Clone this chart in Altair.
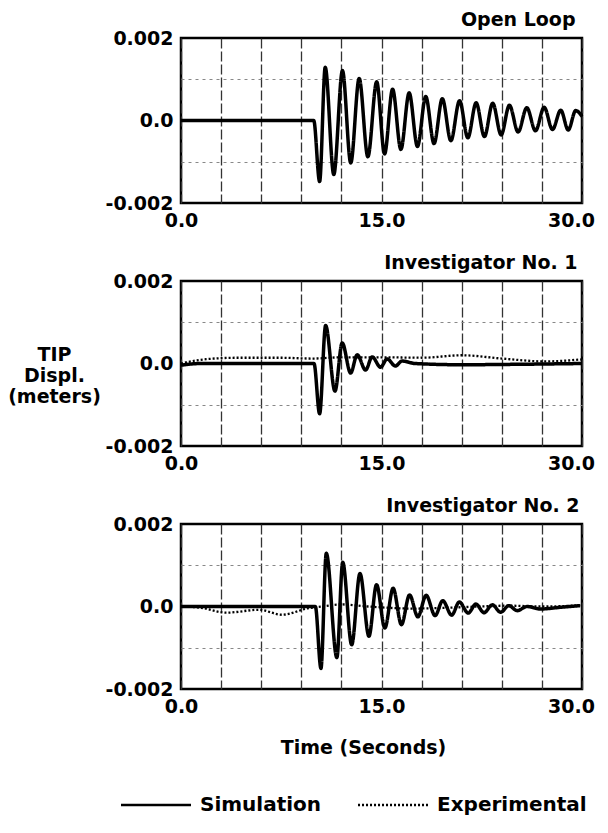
import altair as alt
import pandas as pd

FONT = "DejaVu Sans"

# ---- Open Loop (simulation only), time in s, displacement in m ----
open_t = [0.0, 9.93, 10.37, 10.79, 11.43, 12.08, 12.70, 13.33, 13.98, 14.64, 15.23, 15.83,
          16.45, 17.07, 17.69, 18.31, 18.93, 19.55, 20.19, 20.84, 21.46, 22.08, 22.70,
          23.32, 23.95, 24.57, 25.22, 25.87, 26.52, 27.17, 27.79, 28.41, 28.97, 29.53, 30.0]
open_sim = [0.0, 0.0, -0.00148, 0.00129, -0.00131, 0.00121, -0.00103, 0.00102, -0.00088,
            0.00094, -0.00081, 0.00076, -0.00070, 0.00067, -0.00063, 0.00058, -0.00056,
            0.00053, -0.00049, 0.00048, -0.00042, 0.00043, -0.00039, 0.00042, -0.00035,
            0.00037, -0.00028, 0.00031, -0.00025, 0.00032, -0.00022, 0.00025, -0.00023,
            0.00024, 0.00010]

# ---- Investigator No. 1 ----
inv1_sim_t = [0.0, 1.5, 9.95, 10.37, 10.82, 11.52, 12.06, 12.69, 13.18, 13.81, 14.30,
              14.93, 15.42, 16.04, 16.54, 17.5, 21.0, 25.0, 30.0]
inv1_sim = [-0.00004, 0.0, 0.0, -0.00122, 0.00092, -0.00067, 0.00050, -0.00023, 0.00021,
            -0.00016, 0.00016, -0.00009, 0.00011, -0.00006, 0.00006, 0.0, -0.00003,
            -0.00002, 0.0]
inv1_exp_t = [0.0, 1.87, 4.35, 7.34, 9.83, 12.0, 15.0, 18.03, 21.02, 24.0, 27.24, 30.0]
inv1_exp = [0.0, 0.000105, 0.00014, 0.00014, 0.00012, 0.00015, 0.00015, 0.00014,
            0.00020, 0.00012, 0.00005, 0.00010]

# ---- Investigator No. 2 ----
inv2_sim_t = [0.0, 10.05, 10.47, 10.87, 11.66, 12.10, 12.77, 13.39, 14.06, 14.63, 15.25,
              15.87, 16.49, 17.10, 17.72, 18.34, 19.01, 19.58, 20.25, 20.82, 21.49, 22.06,
              22.67, 23.29, 23.91, 24.53, 25.15, 25.89, 26.88, 28.37, 29.85]
inv2_sim = [0.0, 0.0, -0.00150, 0.00129, -0.00124, 0.00107, -0.00093, 0.00080, -0.00072,
            0.00053, -0.00052, 0.00044, -0.00044, 0.00028, -0.00025, 0.00027, -0.00022,
            0.00014, -0.00021, 0.00011, -0.00016, 0.00006, -0.00015, 0.00004, -0.00014,
            0.00002, -0.00010, 0.0, -0.00006, -0.00002, 0.00002]
inv2_exp_t = [0.0, 1.5, 3.37, 5.84, 7.57, 9.55, 10.5, 12.0, 14.0, 17.3, 20.0, 22.3, 24.5,
              27.0, 30.0]
inv2_exp = [0.0, -0.00003, -0.00015, -0.00008, -0.00020, -0.00004, 0.0, 0.00005, 0.0,
            -0.00005, -0.00003, 0.0, 0.00002, 0.0, 0.00003]

SERIES = ["Simulation", "Experimental"]
x_ticks = [0, 3, 6, 9, 12, 15, 18, 21, 24, 27, 30]
y_ticks = [-0.002, -0.001, 0.0, 0.001, 0.002]

W, H = 401, 165


def frame(ts, ys, name):
    return pd.DataFrame({"t": ts, "y": ys, "series": name})


dash_scale = alt.Scale(domain=SERIES, range=[[1, 0], [2, 2]])

TOP_TITLE = dict(titleAngle=0, titleAlign="right", titleBaseline="alphabetic")


def panel(title, sim, exp=None, position=1):
    # panel title is carried by an axis title placed above the plot's top-right corner
    x_kw = dict(title=None)
    y_kw = dict(title=None)
    if position == 1:
        y_kw = dict(title=title, titleX=W - 7, titleY=-13, **TOP_TITLE)
    elif position == 2:
        x_kw = dict(title=title, titleX=W - 5, titleY=-(H + 13), **TOP_TITLE)
        y_kw = dict(title=["TIP", "Displ.", "(meters)"], titleAngle=0, titleX=-127,
                    titleY=64, titleAlign="center", titleBaseline="top",
                    titleLineHeight=21)
    else:
        y_kw = dict(title=title, titleX=W - 3, titleY=-13, **TOP_TITLE)
        x_kw = dict(title="Time (Seconds)", titleX=182, titleY=64,
                    titleAlign="center", titleBaseline="alphabetic")

    x_axis = alt.Axis(
        values=x_ticks,
        labelExpr="datum.value % 15 == 0 ? format(datum.value, '.1f') : ''",
        labelOverlap=False,
        labelFlush=False,
        labelOffset={"condition": {"test": "datum.value == 30", "value": -11}, "value": 0},
        grid=True,
        gridColor="#333333",
        gridDash=[10, 3],
        gridWidth=1.3,
        **x_kw,
    )
    y_axis = alt.Axis(
        values=y_ticks,
        labelExpr="datum.value == 0 ? '0.0' : (datum.value > 0.0015 ? '0.002' : (datum.value < -0.0015 ? '-0.002' : ''))",
        labelOverlap=False,
        grid=True,
        gridColor="#888888",
        gridDash=[3, 4],
        gridWidth=1,
        gridOpacity={"condition": {"test": "abs(datum.value) < 0.0005 || abs(datum.value) > 0.0015", "value": 0}, "value": 1},
        **y_kw,
    )
    xenc = alt.X("t:Q", scale=alt.Scale(domain=[0, 30], nice=False, zero=False), axis=x_axis)
    yenc = alt.Y("y:Q", scale=alt.Scale(domain=[-0.002, 0.002], nice=False), axis=y_axis)
    dash = alt.StrokeDash("series:N", scale=dash_scale, legend=alt.Legend(title=None))
    layers = []
    if exp is not None:
        layers.append(
            alt.Chart(exp).mark_line(color="black", strokeWidth=2.3, interpolate="monotone")
            .encode(x=xenc, y=yenc, strokeDash=dash)
        )
    layers.append(
        alt.Chart(sim).mark_line(color="black", strokeWidth=3.5, interpolate="monotone")
        .encode(x=xenc, y=yenc, strokeDash=dash)
    )
    return alt.layer(*layers).properties(width=W, height=H)


p1 = panel("Open Loop", frame(open_t, open_sim, "Simulation"), position=1)
p2 = panel("Investigator No. 1", frame(inv1_sim_t, inv1_sim, "Simulation"),
           frame(inv1_exp_t, inv1_exp, "Experimental"), position=2)
p3 = panel("Investigator No. 2", frame(inv2_sim_t, inv2_sim, "Simulation"),
           frame(inv2_exp_t, inv2_exp, "Experimental"), position=3)

chart = (
    alt.vconcat(p1, p2, p3, spacing=19)
    .properties(padding={"left": -2, "top": 0, "right": 0, "bottom": 0})
    .configure(font=FONT)
    .configure_view(stroke="black", strokeWidth=2.5, fill="white")
    .configure_axis(
        domain=False,
        ticks=False,
        tickSize=0,
        labelFont=FONT,
        labelFontSize=19,
        labelFontWeight="bold",
        labelColor="black",
        labelPadding=8,
        titleFont=FONT,
        titleFontSize=19,
        titleFontWeight="bold",
        titleColor="black",
    )
    .configure_legend(
        orient="none",
        legendX=-35,
        legendY=757,
        direction="horizontal",
        symbolType="M-4,0H4",
        symbolSize=306,
        symbolStrokeWidth=2.5,
        symbolStrokeColor="black",
        labelFont=FONT,
        labelFontSize=20,
        labelFontWeight="bold",
        labelColor="black",
        labelOffset=34,
        columnPadding=31,
    )
)

chart.save("out.html", embed_options={"renderer": "svg", "actions": False})
